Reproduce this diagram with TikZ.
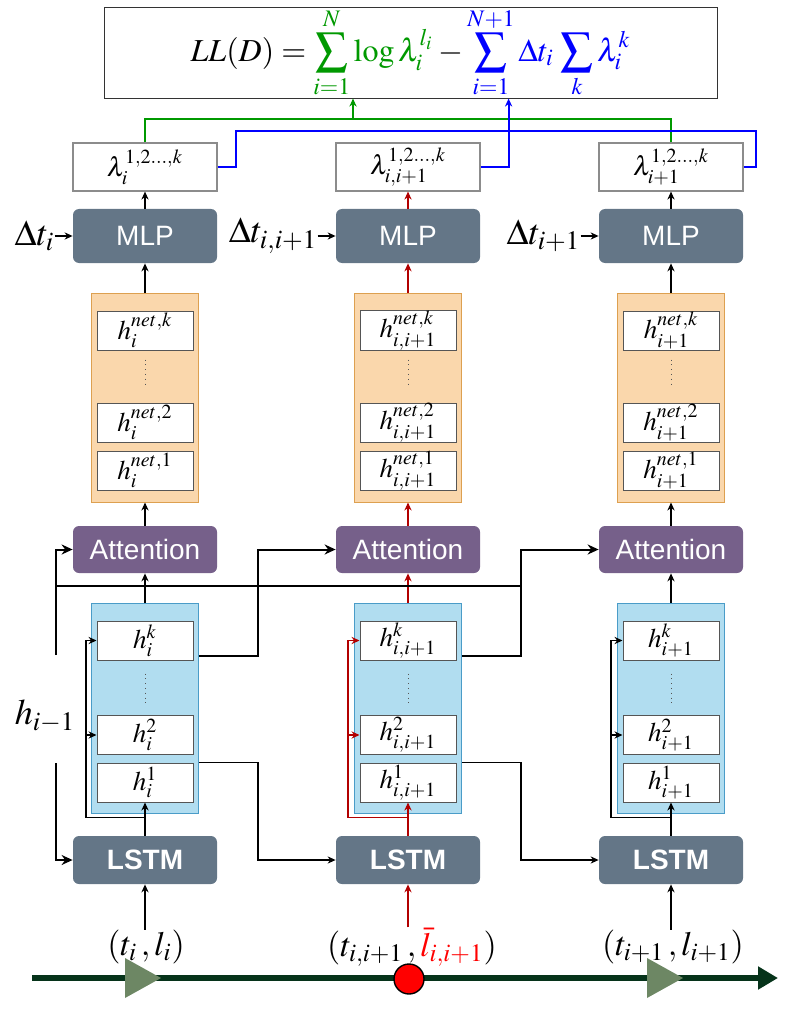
\documentclass[tikz,border=0pt]{standalone}
\usepackage{mathptmx}
\usepackage{fontspec}
\setsansfont{Liberation Sans}
\usepackage{xcolor}
\usepackage{tikz}
\usetikzlibrary{positioning,arrows.meta,calc}
\definecolor{ink}       {HTML}{333333}
\definecolor{slate}     {HTML}{647687}
\definecolor{plum}      {HTML}{76608A}
\definecolor{peach}     {HTML}{FAD7AC}
\definecolor{peachline} {HTML}{DDA050}
\definecolor{sky}       {HTML}{B1DDF0}
\definecolor{skyline}   {HTML}{4A9CC8}
\definecolor{cellline}  {HTML}{555555}
\definecolor{lamline}   {HTML}{8C8C8C}
\definecolor{darkred}   {HTML}{B20000}
\definecolor{lossgreen} {HTML}{009900}
\definecolor{leaf}      {HTML}{6D8764}
\definecolor{trackc}    {HTML}{06331A}
\newcommand{\setsz}[1]{\fontsize{#1}{#1}\selectfont}
\tikzset{
  loss/.style    = {draw=ink, fill=white, line width=0.5pt, minimum width=306.5pt,
                    minimum height=43pt, inner sep=0pt, font=\setsz{16}},
  lam/.style     = {draw=lamline, fill=white, line width=0.6pt, minimum width=72pt,
                    minimum height=24pt, inner sep=0pt, font=\setsz{13.5}},
  blk/.style     = {rounded corners=3pt, fill=slate, text=white, minimum width=72pt,
                    minimum height=27pt, inner sep=0pt, font=\sffamily\setsz{14}},
  att/.style     = {blk, fill=plum, minimum height=23.5pt},
  lstm/.style    = {blk, minimum height=24pt, font=\sffamily\bfseries\setsz{14}},
  netbox/.style  = {draw=peachline, fill=peach, line width=0.5pt, minimum width=53.5pt,
                    minimum height=104.5pt, inner sep=0pt},
  hidbox/.style  = {netbox, draw=skyline, fill=sky, minimum height=105pt},
  cell/.style    = {draw=cellline, fill=white, line width=0.5pt, minimum width=48pt,
                    minimum height=19.5pt, inner sep=0pt, font=\setsz{13.5}},
  dotline/.style = {dotted, draw=cellline, line width=0.4pt},
  flow/.style    = {-{Stealth[length=4pt,width=3.6pt]}, line width=0.6pt},
  bigflow/.style = {-{Stealth[length=5.5pt,width=5pt]}, line width=1pt},
  bigline/.style = {line width=1pt},
  lbl/.style     = {inner sep=0pt, font=\setsz{17}},
  dtlbl/.style   = {inner sep=0pt, font=\setsz{18}},
  gline/.style   = {draw=lossgreen, line width=0.9pt},
  bline/.style   = {draw=blue, line width=0.9pt},
  track/.style   = {draw=trackc, line width=3pt, -{Triangle[length=10pt,width=11pt]}},
  evdot/.style   = {circle, draw=black, fill=red, line width=0.7pt, minimum size=15pt, inner sep=0pt},
}

\begin{document}
\begin{tikzpicture}[x=0.5pt,y=-0.5pt]
  \useasboundingbox (0,0) rectangle (789,1016);

  \node[loss] (loss) at (410.5,53)
    {$\displaystyle LL(D) = \textcolor{lossgreen}{\sum_{i=1}^{N}\log\lambda_i^{l_i}}
     - \textcolor{blue}{\sum_{i=1}^{N+1}\Delta t_i\,\sum_{k}\lambda_i^k}$};

  \node[lam] (lamL) at (145,167) {$\lambda_i^{1,2...,k}$};
  \node[lam] (lamM) at (408,167) {$\lambda_{i,i+1}^{1,2...,k}$};
  \node[lam] (lamR) at (671,167) {$\lambda_{i+1}^{1,2...,k}$};

  \node[blk] (mlpL) at (145,236) {MLP};
  \node[blk] (mlpM) at (408,236) {MLP};
  \node[blk] (mlpR) at (671,236) {MLP};
  \node[dtlbl, left=9pt of mlpL] (dtL) {$\Delta t_i$};
  \node[dtlbl, left=9pt of mlpM] (dtM) {$\Delta t_{i,i+1}$};
  \node[dtlbl, left=9pt of mlpR] (dtR) {$\Delta t_{i+1}$};

  \node[netbox] (netL) at (145,397.5) {};
  \node[cell] (nkL) at (145,330.5) {$h_i^{net,k}$};
  \node[cell] (n2L) at (145,422.5) {$h_i^{net,2}$};
  \node[cell] (n1L) at (145,470.5) {$h_i^{net,1}$};
  \node[netbox] (netM) at (408,397.5) {};
  \node[cell] (nkM) at (408,330.5) {$h_{i,i+1}^{net,k}$};
  \node[cell] (n2M) at (408,422.5) {$h_{i,i+1}^{net,2}$};
  \node[cell] (n1M) at (408,470.5) {$h_{i,i+1}^{net,1}$};
  \node[netbox] (netR) at (671,397.5) {};
  \node[cell] (nkR) at (671,330.5) {$h_{i+1}^{net,k}$};
  \node[cell] (n2R) at (671,422.5) {$h_{i+1}^{net,2}$};
  \node[cell] (n1R) at (671,470.5) {$h_{i+1}^{net,1}$};

  \node[att] (attL) at (145,549.5) {Attention};
  \node[att] (attM) at (408,549.5) {Attention};
  \node[att] (attR) at (671,549.5) {Attention};

  \node[hidbox] (hidL) at (145,708) {};
  \node[cell] (hkL) at (145,640.5) {$h_i^k$};
  \node[cell] (h2L) at (145,735) {$h_i^2$};
  \node[cell] (h1L) at (145,782.5) {$h_i^1$};
  \node[hidbox] (hidM) at (408,708) {};
  \node[cell] (hkM) at (408,640.5) {$h_{i,i+1}^k$};
  \node[cell] (h2M) at (408,735) {$h_{i,i+1}^2$};
  \node[cell] (h1M) at (408,782.5) {$h_{i,i+1}^1$};
  \node[hidbox] (hidR) at (671,708) {};
  \node[cell] (hkR) at (671,640.5) {$h_{i+1}^k$};
  \node[cell] (h2R) at (671,735) {$h_{i+1}^2$};
  \node[cell] (h1R) at (671,782.5) {$h_{i+1}^1$};

  \foreach \c in {L,M,R} {
    \draw[dotline] ($(nk\c.south)+(0,9)$) -- ($(n2\c.north)+(0,-15)$);
    \draw[dotline] ($(hk\c.south)+(0,13)$) -- ($(h2\c.north)+(0,-11)$);
  }

  \node[lstm] (lstmL) at (145,860) {LSTM};
  \node[lstm] (lstmM) at (408,860) {LSTM};
  \node[lstm] (lstmR) at (671,860) {LSTM};

  \node[lbl] (evL) at (146,947) {$(t_i\,, l_i)$};
  \node[lbl] (evM) at (412,947) {$(t_{i,i+1}\,, \textcolor{red}{\bar{l}_{i,i+1}})$};
  \node[lbl] (evR) at (673,947) {$(t_{i+1}\,, l_{i+1})$};
  \node[lbl, font=\setsz{18}] (hprev) at (45,716) {$h_{i-1}$};

  \coordinate (t0) at (32,978);
  \coordinate (t1) at (778,978);
  \draw[track] (t0) -- (t1);
  \fill[leaf] (125,958) -- (161,978) -- (125,998) -- cycle;
  \fill[leaf] (647,958) -- (683,978) -- (647,998) -- cycle;
  \node[evdot] (dotM) at (409,979) {};

  \draw[flow] (lstmL.south |- evL.north) -- (lstmL.south);
  \draw[flow] (lstmL.north) -- (h1L.south);
  \draw[flow] (lstmL.north) -- ++(0,-18) -- ++(-59,0) coordinate (spL) |- (hkL.west);
  \draw[flow] (spL |- h2L.west) -- (h2L.west);
  \draw[flow] (hidL.north) -- (attL.south);
  \draw[flow] (attL.north) -- (netL.south);
  \draw[flow] (netL.north) -- (mlpL.south);
  \draw[flow] (mlpL.north) -- (lamL.south);
  \draw[flow] (dtL.east) -- (mlpL.west);

  \begin{scope}[darkred]
    \draw[flow] (lstmM.south |- evM.north) -- (lstmM.south);
    \draw[flow] (lstmM.north) -- (h1M.south);
    \draw[flow] (lstmM.north) -- ++(0,-18) -- ++(-60,0) coordinate (spM) |- (hkM.west);
    \draw[flow] (spM |- h2M.west) -- (h2M.west);
    \draw[flow] (hidM.north) -- (attM.south);
    \draw[flow] (attM.north) -- (netM.south);
    \draw[flow] (netM.north) -- (mlpM.south);
    \draw[flow] (mlpM.north) -- (lamM.south);
  \end{scope}
  \draw[flow] (dtM.east) -- (mlpM.west);

  \draw[flow] (lstmR.south |- evR.north) -- (lstmR.south);
  \draw[flow] (lstmR.north) -- (h1R.south);
  \draw[flow] (lstmR.north) -- ++(0,-18) -- ++(-60,0) coordinate (spR) |- (hkR.west);
  \draw[flow] (spR |- h2R.west) -- (h2R.west);
  \draw[flow] (hidR.north) -- (attR.south);
  \draw[flow] (attR.north) -- (netR.south);
  \draw[flow] (netR.north) -- (mlpR.south);
  \draw[flow] (mlpR.north) -- (lamR.south);
  \draw[flow] (dtR.east) -- (mlpR.west);

  \draw[bigflow] ($(hidL.east |- hkL.south)+(0,-5)$) -- ++(59,0) |- (attM.west);
  \draw[flow] (hidL.east |- h1L.north) -- ++(59,0) |- (lstmM.west);
  \draw[bigflow] ($(hidM.east |- hkM.south)+(0,-5)$) -- ++(59,0) coordinate (jM) |- (attR.west);
  \draw[flow] (hidM.east |- h1M.north) -- ++(59,0) |- (lstmR.west);

  \coordinate (hup) at (56,655);
  \coordinate (hdn) at (56,763);
  \coordinate (hmid) at (56,586);
  \draw[bigflow] (hup) |- (attL.west);
  \draw[bigline] (hmid) -- (hmid -| jM);
  \draw[bigflow] (hdn) |- (lstmL.west);

  \draw[gline] (lamL.north) -- ++(0,-23) -| (lamR.north);
  \coordinate (gj) at (353,120);
  \draw[gline, -{Stealth[length=4pt,width=3.6pt]}] (gj) -- (gj |- loss.south);
  \draw[bline] (lamL.east) -- ++(18,0) -- ++(0,-36) -| ($(lamR.east)+(12,0)$) -- (lamR.east);
  \draw[bline, -{Stealth[length=4pt,width=3.6pt]}] (lamM.east) -- ++(28,0) coordinate (bj) -- (bj |- loss.south);
\end{tikzpicture}
\end{document}
